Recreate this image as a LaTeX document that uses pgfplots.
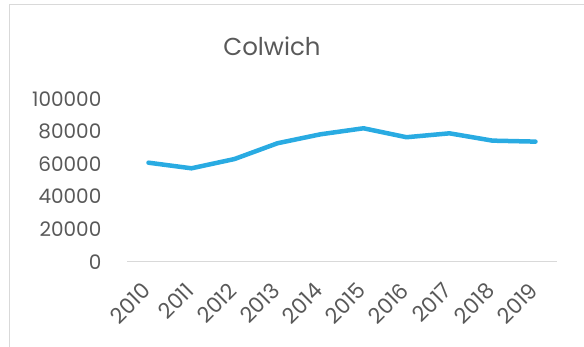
\documentclass[border=0pt]{standalone}
\usepackage{pgfplots}
\pgfplotsset{compat=1.18}
\usepackage{fontspec}
\setmainfont{Poppins}
\definecolor{linec}{HTML}{29ABE2}
\definecolor{txt}{HTML}{595959}
\definecolor{brd}{HTML}{D9D9D9}
\begin{document}
\begin{tikzpicture}
\useasboundingbox (0pt,0pt) rectangle (584pt,347pt);
\draw[brd, line width=1.5pt] (9.5pt,0pt) -- (9.5pt,342.5pt) -- (584pt,342.5pt);
\node[txt, font=\fontsize{24.5}{29}\selectfont] at (272pt,301pt) {Colwich};
\begin{axis}[
  at={(127pt,85.3pt)}, anchor=south west,
  scale only axis, width=430pt, height=162.7pt,
  xmin=-0.5, xmax=9.5, ymin=0, ymax=100000,
  axis x line=bottom, axis y line=left,
  x axis line style={brd, line width=1pt, -},
  y axis line style={draw=none},
  xtick={0,...,9},
  xticklabels={2010,2011,2012,2013,2014,2015,2016,2017,2018,2019},
  xtick style={draw=none},
  ytick={0,20000,40000,60000,80000,100000},
  yticklabels={0,20000,40000,60000,80000,100000},
  ytick style={draw=none},
  scaled y ticks=false,
  tick label style={txt, font=\fontsize{20}{24}\selectfont},
  xticklabel style={font=\fontsize{21.5}{25}\selectfont, rotate=45, anchor=east, yshift=-15pt, xshift=-14pt},
  yticklabel style={anchor=east, xshift=-20pt},
  clip=false,
]
\addplot[linec, line width=4.5pt, line join=round, line cap=round] coordinates {
(0,60850) (1,57400) (2,63100) (3,72800) (4,78300) (5,82000) (6,76500) (7,78900) (8,74400) (9,73800)
};
\end{axis}
\end{tikzpicture}
\end{document}
